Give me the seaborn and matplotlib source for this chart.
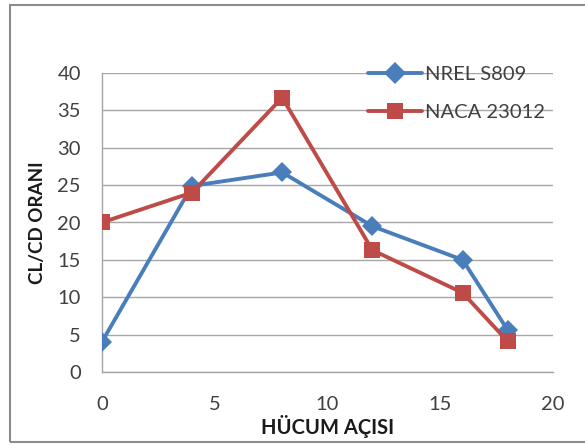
import pandas as pd
import matplotlib
matplotlib.use("Agg")
import matplotlib.pyplot as plt
import seaborn as sns
from matplotlib.patches import Rectangle


ANGLES = [0, 4, 8, 12, 16, 18]
NREL_S809 = [4.0, 24.9, 26.7, 19.5, 15.0, 5.6]
NACA_23012 = [20.0, 24.0, 36.7, 16.3, 10.6, 4.1]

SERIES_NAMES = ["NREL S809", "NACA 23012"]
COLORS = ["#4A7EBB", "#BE4B48"]
MARKERS = ["D", "s"]

X_TICKS = [0, 5, 10, 15, 20]
Y_TICKS = [0, 5, 10, 15, 20, 25, 30, 35, 40]


def build_frame():
    rows = []
    for name, values in zip(SERIES_NAMES, [NREL_S809, NACA_23012]):
        for a, v in zip(ANGLES, values):
            rows.append({"angle": a, "ratio": v, "profile": name})
    return pd.DataFrame(rows)


def main():
    sns.set_style("white")
    plt.rcParams["font.family"] = ["Lato", "DejaVu Sans"]

    df = build_frame()

    fig = plt.figure(figsize=(5.85, 4.45), dpi=100)
    ax = fig.add_axes([0.174, 0.164, 0.771, 0.672])

    sns.lineplot(
        data=df,
        x="angle",
        y="ratio",
        hue="profile",
        style="profile",
        hue_order=SERIES_NAMES,
        style_order=SERIES_NAMES,
        palette=COLORS,
        markers=dict(zip(SERIES_NAMES, MARKERS)),
        dashes=False,
        linewidth=2.8,
        markersize=11,
        markeredgewidth=0,
        ax=ax,
        zorder=3,
    )
    # diamond a bit smaller than the squares
    ax.lines[0].set_markersize(10)
    ax.lines[1].set_markersize(12)

    ax.set_xlim(0, 20)
    ax.set_ylim(0, 40)
    ax.set_xticks(X_TICKS)
    ax.set_yticks(Y_TICKS)
    ax.tick_params(axis="both", labelsize=14.5, colors="#404040", length=0)
    ax.tick_params(axis="x", pad=17)
    ax.tick_params(axis="y", pad=15)

    ax.yaxis.grid(True, color="#A6A6A6", linewidth=1.0)
    ax.xaxis.grid(False)
    ax.set_axisbelow(True)
    for side in ["top", "right"]:
        ax.spines[side].set_visible(False)
    for side in ["left", "bottom"]:
        ax.spines[side].set_color("#A6A6A6")
        ax.spines[side].set_linewidth(1.0)

    ax.set_xlabel("HÜCUM AÇISI", fontsize=14.5, fontweight="bold", color="#1a1a1a", labelpad=2)
    ax.set_ylabel("CL/CD ORANI", fontsize=13.5, fontweight="bold", color="#1a1a1a", labelpad=8)

    handles, labels = ax.get_legend_handles_labels()
    ax.legend(
        handles,
        labels,
        loc="upper left",
        bbox_to_anchor=(0.55, 1.085),
        frameon=False,
        fontsize=14.5,
        handlelength=2.7,
        handletextpad=0.15,
        labelspacing=1.05,
        labelcolor="#404040",
    )

    # chart area border
    fig.patches.append(Rectangle(
        (10 / 585, 3 / 445), 1.0, 1 - 8 / 445,
        transform=fig.transFigure, fill=False,
        edgecolor="#8C8C8C", linewidth=1.5,
    ))

    fig.savefig("out.png", dpi=100)
    plt.close(fig)


if __name__ == "__main__":
    main()
